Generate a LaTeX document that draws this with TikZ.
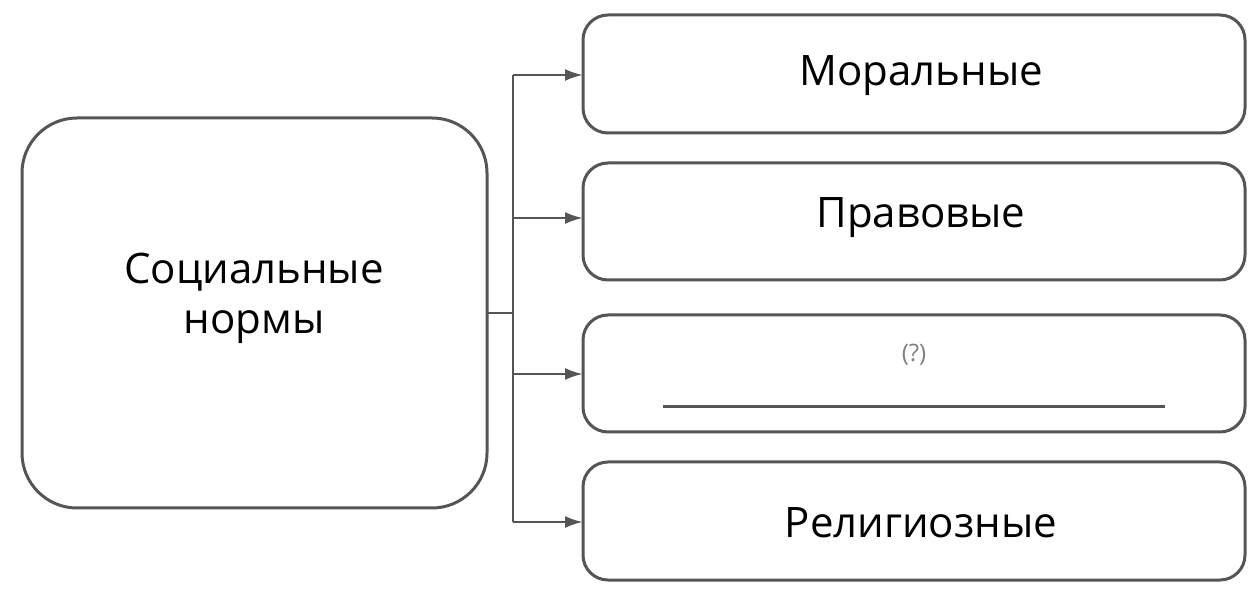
\documentclass[tikz,border=0pt]{standalone}
\usepackage{fontspec}
\setmainfont{Open Sans}
\usetikzlibrary{arrows.meta}
\definecolor{bd}{HTML}{555555}
\begin{document}
\begin{tikzpicture}[x=1pt,y=-1pt,
  box/.style={draw=bd,line width=3pt,rounded corners=25pt},
  lbl/.style={font=\fontsize{42}{50}\selectfont},
  arr/.style={draw=bd,line width=2.5pt,-{Latex[length=18pt,width=12pt]}}]
\useasboundingbox (0,0) rectangle (1254,593);
\draw[box,rounded corners=55pt] (22,118) rectangle (487,508);
\node[lbl,align=center] (L) at (254,298) {Социальные\\нормы};
\draw[box] (583,15) rectangle (1245,133);
\draw[box] (583,163) rectangle (1245,280);
\draw[box] (583,315) rectangle (1245,432);
\draw[box] (583,462) rectangle (1245,580);
\node[lbl] (a) at (921,76) {Моральные};
\node[lbl] (b) at (921,218) {Правовые};
\node[font=\fontsize{24}{28}\selectfont,text=gray] (q) at (914,355) {(?)};
\draw[bd,line width=3pt] (663,407) -- (1165,407);
\node[lbl] (d) at (921,523) {Религиозные};
\coordinate (t0) at (513,75); \coordinate (t3) at (513,522);
\draw[bd,line width=2.5pt] (487,313) -- (513,313);
\draw[bd,line width=2.5pt] (t0) -- (t3);
\draw[arr] (513,75) -- (583,75);
\draw[arr] (513,218) -- (583,218);
\draw[arr] (513,374) -- (583,374);
\draw[arr] (513,522) -- (583,522);
\end{tikzpicture}
\end{document}
